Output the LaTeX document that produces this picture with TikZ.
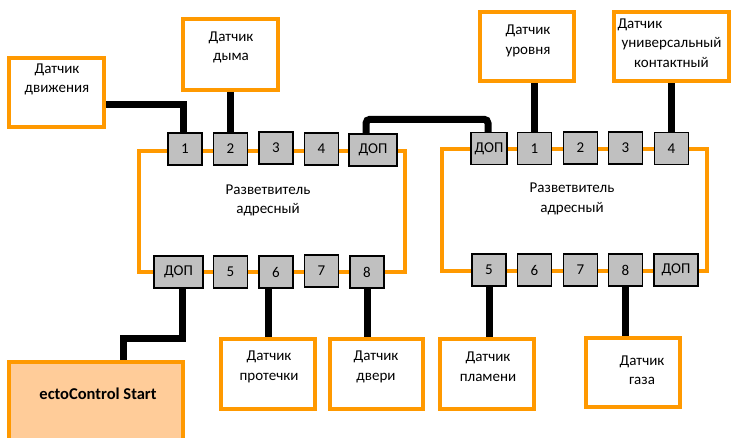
\documentclass[tikz,border=0pt]{standalone}
\usepackage{fontspec}
\setmainfont{Carlito}
\definecolor{amber}{RGB}{255,153,0}
\definecolor{peach}{RGB}{255,204,153}
\definecolor{portgray}{RGB}{192,192,192}

\begin{document}
\begin{tikzpicture}[x=1pt, y=-1pt]
	\tikzset{port/.style={draw=black, line width=1.5pt, fill=portgray, minimum width=34pt, minimum height=32pt, inner sep=0pt, font=\fontsize{15}{18}\selectfont},
	sensor/.style={draw=amber, line width=4.5pt, fill=white, minimum width=94pt, minimum height=70pt, inner sep=0pt},
	hub/.style={draw=amber, line width=4.5pt, inner sep=0pt},
	txt/.style={align=center, inner sep=0pt, font=\fontsize{15}{19.5}\selectfont},
	wire/.style={line width=7pt}};

	\useasboundingbox (0,0) rectangle (734,437);

	% two address splitters
	\node[hub, minimum width=266pt, minimum height=121pt] (hubA) at (272,211.5) {};
	\node[hub, minimum width=265pt, minimum height=122pt] (hubB) at (574.5,210) {};
	\node[txt] (hubAtxt) at (268,200.5) {Разветвитель\\адресный};
	\node[txt] (hubBtxt) at (572,199) {Разветвитель\\адресный};

	% ports of the first splitter
	\node[port] (a1) at (185,149) {1};
	\node[port] (a2) at (230.5,149) {2};
	\node[port] (a3) at (276,148) {3};
	\node[port] (a4) at (321.5,149) {4};
	\node[port, minimum width=48pt] (atop) at (373,150) {ДОП};
	\node[port, minimum width=49pt] (abot) at (178.5,272) {ДОП};
	\node[port] (a5) at (230.5,272) {5};
	\node[port] (a6) at (276,272) {6};
	\node[port] (a7) at (321.5,271) {7};
	\node[port] (a8) at (367,272) {8};

	% ports of the second splitter
	\node[port, minimum width=36pt] (btop) at (489,148.5) {ДОП};
	\node[port] (b1) at (534.5,148.5) {1};
	\node[port] (b2) at (580.5,148) {2};
	\node[port] (b3) at (625.5,148) {3};
	\node[port] (b4) at (671.5,148.5) {4};
	\node[port] (b5) at (489,270) {5};
	\node[port] (b6) at (534.5,270) {6};
	\node[port] (b7) at (580.5,270) {7};
	\node[port] (b8) at (625.5,270) {8};
	\node[port, minimum width=44pt] (bbot) at (676,270) {ДОП};

	% sensors
	\node[sensor, minimum width=95pt, minimum height=69pt] (motion) at (56.5,92.5) {};
	\node[sensor, minimum width=95pt, minimum height=71pt] (smoke) at (230.5,54.5) {};
	\node[sensor, minimum height=69pt] (level) at (527,46.5) {};
	\node[sensor, minimum width=115pt, minimum height=69pt] (contact) at (671.5,46.5) {};
	\node[sensor] (leak) at (268,374) {};
	\node[sensor, minimum width=93pt] (door) at (376.5,374) {};
	\node[sensor] (flame) at (487,374) {};
	\node[sensor, minimum height=69pt] (gas) at (633,372.5) {};
	\node[sensor, fill=peach, minimum width=174pt, minimum height=100pt] (ecto) at (96,412) {};

	\node[txt] (motiontxt) at (57,79.5) {Датчик\\движения};
	\node[txt] (smoketxt) at (231,47.5) {Датчик\\дыма};
	\node[txt] (leveltxt) at (528,41) {Датчик\\уровня};
	\node[txt, text width=108pt] (contacttxt) at (671.5,43) {Датчик\hfill\mbox{}\\универсальный\\контактный};
	\node[txt] (leaktxt) at (269,367) {Датчик\\протечки};
	\node[txt] (doortxt) at (376,367) {Датчик\\двери};
	\node[txt] (flametxt) at (488,366.5) {Датчик\\пламени};
	\node[txt] (gastxt) at (642,370) {Датчик\\газа};
	\node[txt, font=\fontsize{16.5}{19}\selectfont\bfseries] (ectotxt) at (98,394) {ectoControl Start};

	% wiring
	\coordinate (ectoin) at (123,338);
	\draw[wire] ([yshift=-11.5pt]motion.east) -| ([xshift=-2pt]a1.north);
	\draw[wire] (smoke.south) -- (smoke.south |- a2.north);
	\draw[wire, rounded corners=4pt] ([xshift=-7pt]atop.north) -- ++(0,-14) -| ([xshift=-1pt]btop.north);
	\draw[wire] (b1.north) -- (b1.north |- level.south);
	\draw[wire] (b4.north) -- (b4.north |- contact.south);
	\draw[wire] ([xshift=4pt]abot.south) |- (ectoin) -- (ectoin |- ecto.north);
	\draw[wire] (leak.north) -- (leak.north |- a6.south);
	\draw[wire] (a8.south) -- (a8.south |- door.north);
	\draw[wire] (b5.south) -- (b5.south |- flame.north);
	\draw[wire] (b8.south) -- (b8.south |- gas.north);
\end{tikzpicture}
\end{document}
